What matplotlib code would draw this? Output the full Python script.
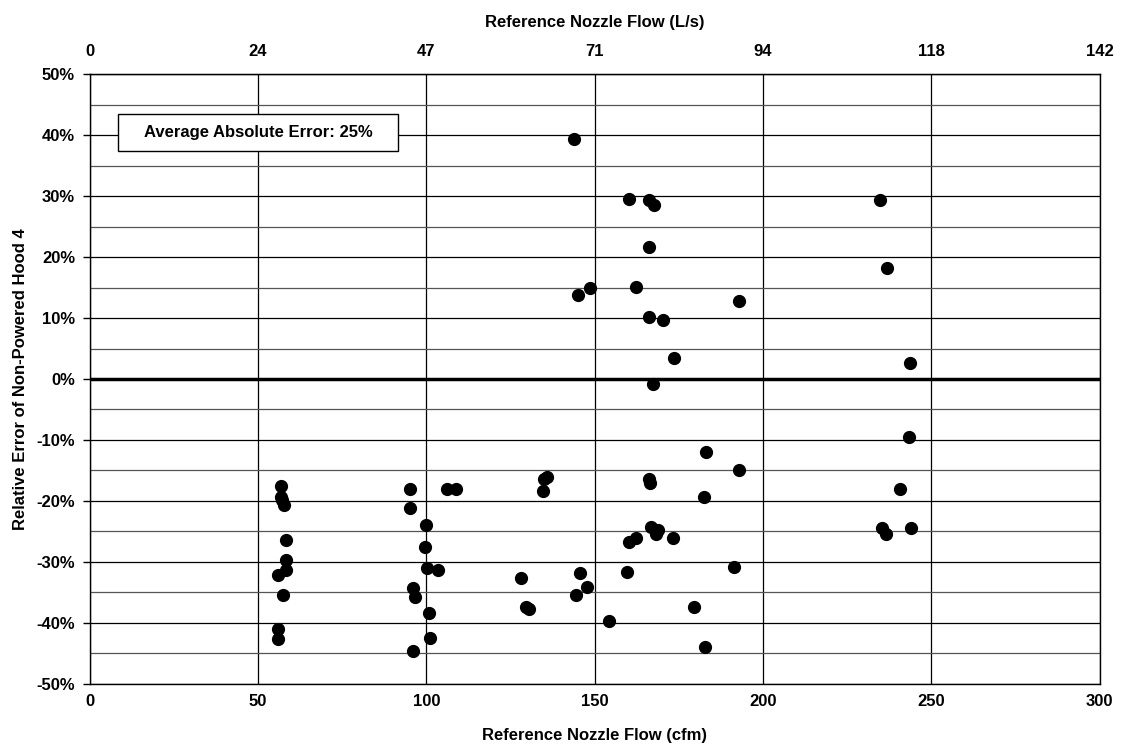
import numpy as np
import matplotlib
matplotlib.use('Agg')
import matplotlib.pyplot as plt
from matplotlib.patches import Rectangle
from matplotlib.ticker import FuncFormatter, MultipleLocator

plt.rcParams['font.family'] = ['Liberation Sans', 'DejaVu Sans']
plt.rcParams['font.weight'] = 'bold'

# Reference nozzle flow (cfm) and relative error (%)
flow_cfm = [56.8, 56.7, 57.2, 57.8, 58.3, 58.3, 58.3, 55.8, 57.3, 55.9, 55.9,
            95.0, 95.0, 106.0, 108.7, 99.9, 99.6, 100.1, 103.6, 95.9, 96.7,
            100.9, 101.1, 95.9,
            128.0, 129.5, 130.5,
            143.9, 160.2, 166.0, 167.7, 166.0, 148.5, 144.9, 162.2, 193.0,
            166.1, 170.3, 173.7, 167.3,
            183.0, 193.0, 135.7, 135.0, 134.6, 166.2, 166.5, 182.4, 166.6,
            168.9, 168.2, 173.4, 162.3, 160.2, 159.6, 191.5, 145.5, 147.6,
            144.5, 154.3, 179.5, 182.9,
            234.7, 236.8, 243.8, 243.4, 240.6, 235.3, 236.5, 243.9]
rel_error = [-17.6, -19.3, -19.9, -20.6, -26.4, -29.7, -31.4, -32.1, -35.5, -41.0, -42.7,
             -18.0, -21.1, -18.0, -18.1, -23.9, -27.6, -31.0, -31.4, -34.2, -35.8,
             -38.4, -42.5, -44.6,
             -32.7, -37.4, -37.8,
             39.4, 29.6, 29.4, 28.5, 21.6, 15.0, 13.7, 15.1, 12.8,
             10.1, 9.6, 3.5, -0.9,
             -11.9, -15.0, -16.0, -16.4, -18.3, -16.4, -17.0, -19.3, -24.3,
             -24.7, -25.5, -26.1, -26.0, -26.8, -31.6, -30.9, -31.9, -34.1,
             -35.5, -39.7, -37.4, -43.9,
             29.3, 18.2, 2.6, -9.5, -18.1, -24.5, -25.5, -24.5]

x_ticks = [0, 50, 100, 150, 200, 250, 300]
top_labels = ['0', '24', '47', '71', '94', '118', '142']
note = 'Average Absolute Error: 25%'
FS = 12

fig = plt.figure(figsize=(11.21, 7.49), dpi=100)
ax = fig.add_axes([0.080, 0.087, 0.901, 0.814])

ax.set_xlim(0, 300)
ax.set_ylim(-50, 50)
ax.set_xticks(x_ticks)
ax.yaxis.set_major_locator(MultipleLocator(10))
ax.yaxis.set_minor_locator(MultipleLocator(5))
ax.yaxis.set_major_formatter(FuncFormatter(lambda v, p: f'{v:.0f}%'))

ax.grid(True, which='major', axis='both', color='black', linewidth=0.9)
ax.grid(True, which='minor', axis='y', color='#555555', linewidth=0.9)
ax.axhline(0, color='black', linewidth=2.5, zorder=2)
ax.set_axisbelow(True)

ax.plot(flow_cfm, rel_error, 'o', color='black', markersize=8.5, zorder=3)

for s in ax.spines.values():
    s.set_color('black')
    s.set_linewidth(1.0)

ax.tick_params(axis='y', which='major', length=5, width=1, labelsize=FS, pad=5.5)
ax.tick_params(axis='y', which='minor', length=0)
ax.tick_params(axis='x', length=0, labelsize=FS, pad=7)

ax.set_xlabel('Reference Nozzle Flow (cfm)', fontsize=FS, fontweight='bold', labelpad=14)
ax.set_ylabel('Relative Error of Non-Powered Hood 4', fontsize=FS, fontweight='bold', labelpad=6)

top = ax.secondary_xaxis('top')
top.set_ticks(x_ticks)
top.set_xticklabels(top_labels)
top.tick_params(length=0, labelsize=FS, pad=11)
top.set_xlabel('Reference Nozzle Flow (L/s)', fontsize=FS, fontweight='bold', labelpad=12)

# note box
ax.add_patch(Rectangle((8.4, 37.4), 83.1, 6.1, facecolor='white', edgecolor='black',
                       linewidth=1.0, zorder=4))
ax.text(50.0, 40.4, note, ha='center', va='center', fontsize=FS, fontweight='bold', zorder=5)

fig.savefig('out.png', dpi=100)
